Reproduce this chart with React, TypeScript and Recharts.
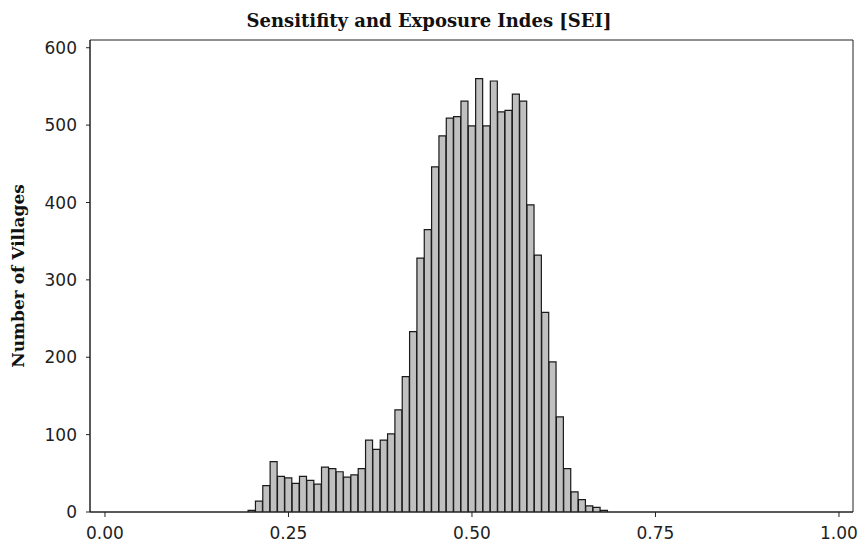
// Histogram of the Sensitivity and Exposure Index across villages
// Bars sit on a numeric x axis so bin centres line up with the 0.00..1.00 ticks

import React from "react"
import { BarChart, Bar, XAxis, YAxis, Label, CartesianGrid } from "recharts"

const title = "Sensitifity and Exposure Indes [SEI]"
const yAxisLabel = "Number of Villages"

// bin centres (width 0.01)
const binCenters = [
  0.2, 0.21, 0.22, 0.23, 0.24, 0.25, 0.26, 0.27, 0.28, 0.29,
  0.3, 0.31, 0.32, 0.33, 0.34, 0.35, 0.36, 0.37, 0.38, 0.39,
  0.4, 0.41, 0.42, 0.43, 0.44, 0.45, 0.46, 0.47, 0.48, 0.49,
  0.5, 0.51, 0.52, 0.53, 0.54, 0.55, 0.56, 0.57, 0.58, 0.59,
  0.6, 0.61, 0.62, 0.63, 0.64, 0.65, 0.66, 0.67, 0.68,
]

const villageCounts = [
  2, 14, 34, 65, 46, 44, 37, 46, 41, 36,
  58, 56, 52, 45, 48, 56, 93, 81, 93, 101,
  132, 175, 233, 328, 365, 446, 486, 509, 511, 531,
  499, 560, 499, 557, 517, 519, 540, 531, 397, 332,
  258, 194, 123, 56, 26, 16, 8, 6, 2,
]

const xTicks = [0, 0.25, 0.5, 0.75, 1]
const yTicks = [0, 100, 200, 300, 400, 500, 600]

const xDomain = [-0.0204, 1.0191]
const yDomain = [0, 610]

const data = binCenters.map((x, i) => ({ x, n: villageCounts[i] }))

const axisColor = "#222"
const tickStyle = { fill: "#1e1e1e", fontSize: 17, fontFamily: "DejaVu Sans" }

// frame lines on the plot box edges
const frameRows = ({ offset }: any) => [offset.top, offset.top + offset.height]
const frameCols = ({ offset }: any) => [offset.left, offset.left + offset.width]

export default function App() {
  return (
    <div
      style={{
        position: "absolute",
        left: 0,
        top: 0,
        width: 858,
        height: 543,
        background: "#fff",
      }}
    >
      <BarChart
        width={858}
        height={543}
        data={data}
        margin={{ top: 40, right: 5, bottom: 0, left: 0 }}
        barCategoryGap={0}
        barGap={0}
      >
        <CartesianGrid
          stroke={axisColor}
          horizontalCoordinatesGenerator={frameRows}
          verticalCoordinatesGenerator={frameCols}
        />
        <XAxis
          dataKey="x"
          type="number"
          domain={xDomain}
          allowDataOverflow
          ticks={xTicks}
          tickFormatter={(v: number) => v.toFixed(2)}
          height={31}
          tickSize={5}
          tickMargin={10}
          stroke={axisColor}
          tick={tickStyle}
        />
        <YAxis
          type="number"
          domain={yDomain}
          allowDataOverflow
          ticks={yTicks}
          width={90}
          tickSize={4}
          tickMargin={9}
          stroke={axisColor}
          tick={tickStyle}
        >
          <Label
            value={yAxisLabel}
            angle={-90}
            position="insideLeft"
            offset={18}
            style={{
              textAnchor: "middle",
              fontFamily: "DejaVu Serif",
              fontWeight: "bold",
              fontSize: 17,
              fill: "#111",
            }}
          />
        </YAxis>
        <Bar
          dataKey="n"
          fill="#c0c0c0"
          stroke="#1a1a1a"
          strokeWidth={1.2}
          isAnimationActive={false}
        />
      </BarChart>
      <div
        style={{
          position: "absolute",
          left: 0,
          top: 9,
          width: 858,
          textAlign: "center",
          fontFamily: "DejaVu Serif",
          fontWeight: "bold",
          fontSize: 18,
          lineHeight: "24px",
          color: "#111",
        }}
      >
        {title}
      </div>
    </div>
  )
}
